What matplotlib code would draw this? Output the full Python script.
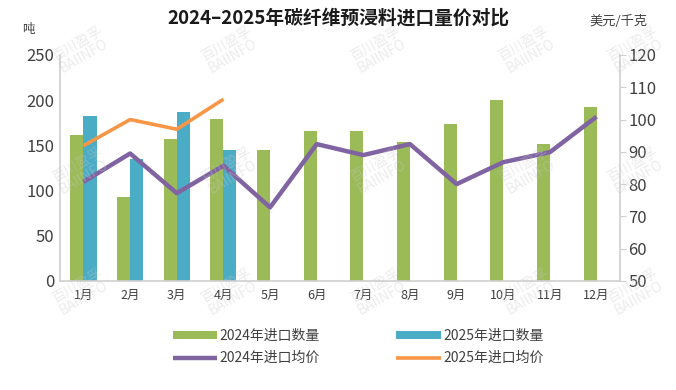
import numpy as np
import matplotlib
matplotlib.use('Agg')
import matplotlib.pyplot as plt

plt.rcParams['font.family'] = ['Noto Sans CJK SC', 'DejaVu Sans']

# 数据
months = ['1月', '2月', '3月', '4月', '5月', '6月', '7月', '8月', '9月', '10月', '11月', '12月']
qty_2024 = [162, 93, 157, 179, 145, 166, 166, 154, 174, 200, 152, 193]
qty_2025 = [183, 135, 187, 145]
price_2024 = [80.7, 89.5, 77.2, 85.7, 72.8, 92.4, 89.0, 92.4, 80.0, 86.8, 89.9, 100.9]
price_2025 = [91.9, 100.0, 97.0, 106.3]

green = '#9BBB59'
blue = '#4BACC6'
purple = '#8064A2'
orange = '#F79646'
grey = '#D0D0D0'
txt = '#404040'

fig = plt.figure(figsize=(6.76, 3.90), dpi=100)
ax = fig.add_axes([0.089, 0.2795, 0.828, 0.5795])
ax2 = ax.twinx()

x = np.arange(len(months))
w = 0.28
ax.bar(x - w / 2, qty_2024, width=w, color=green, label='2024年进口数量', zorder=2)
ax.bar(x[:len(qty_2025)] + w / 2, qty_2025, width=w, color=blue, label='2025年进口数量', zorder=2)

ax2.plot(x, price_2024, color=purple, lw=3.2, label='2024年进口均价', solid_capstyle='butt')
ax2.plot(x[:len(price_2025)], price_2025, color=orange, lw=2.6, label='2025年进口均价', solid_capstyle='butt')

ax.set_xlim(-0.5, 11.5)
ax.set_ylim(0, 250)
ax.set_yticks(range(0, 251, 50))
ax2.set_ylim(50, 120)
ax2.set_yticks(range(50, 121, 10))
ax.set_xticks(x)
ax.set_xticklabels(months, fontsize=9, color=txt)

for a in (ax, ax2):
    a.spines['top'].set_visible(False)
    for s in ('left', 'right', 'bottom'):
        a.spines[s].set_color(grey)
        a.spines[s].set_linewidth(1.2)
ax.spines['right'].set_visible(False)
ax2.spines['left'].set_visible(False)
ax2.spines['bottom'].set_visible(False)

ax.tick_params(axis='y', length=0, labelsize=12, labelcolor=txt, pad=4)
ax.tick_params(axis='x', length=0, pad=6)
ax2.tick_params(axis='y', length=4, color=grey, labelsize=12, labelcolor=txt, pad=2)

fig.text(0.5, 0.955, '2024–2025年碳纤维预浸料进口量价对比', ha='center', va='center',
         fontsize=13.5, fontweight='bold', color='#1a1a1a')
fig.text(0.042, 0.925, '吨', ha='center', va='center', fontsize=9, color=txt)
fig.text(0.915, 0.945, '美元/千克', ha='center', va='center', fontsize=9.5, color=txt)

# 水印
for yy in (0.87, 0.56, 0.25):
    for xx in (0.12, 0.34, 0.56, 0.78, 0.94):
        fig.text(xx, yy, '百川盈孚\nBAIINFO', ha='center', va='center', rotation=30,
                 fontsize=10, color='#c8c8c8', alpha=0.35, linespacing=0.9, zorder=0)

h1, l1 = ax.get_legend_handles_labels()
h2, l2 = ax2.get_legend_handles_labels()
handles = [h1[0], h2[0], h1[1], h2[1]]
labels = [l1[0], l2[0], l1[1], l2[1]]
fig.legend(handles, labels, ncol=2, loc='center', bbox_to_anchor=(0.53, 0.11),
           frameon=False, fontsize=10, handlelength=3.2, handleheight=0.6,
           columnspacing=5.5, labelspacing=0.6, handletextpad=0.2, labelcolor=txt)

fig.savefig('out.png', dpi=100)
